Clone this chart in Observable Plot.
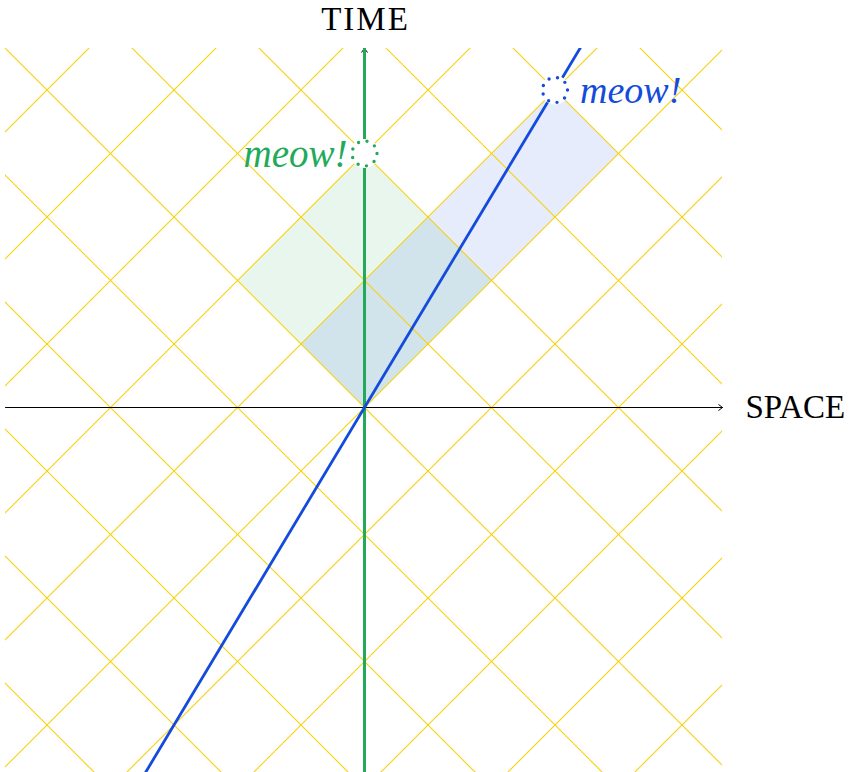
<!DOCTYPE html>
<html><head><meta charset="utf-8">
<script src="https://cdn.jsdelivr.net/npm/d3@7"></script>
<script src="https://cdn.jsdelivr.net/npm/@observablehq/plot@0.6"></script>
<style>body{margin:0;background:#fff}svg{display:block}</style>
</head><body>
<script>
// light-cone grid levels (u = t + x, w = t - x)
const lightConeLevels = [-6,-5,-4,-3,-2,-1,0,1,2,3,4,5,6];
// shaded regions in light-cone coordinates
const restCatU = [0, 2];
const restCatW = [0, 2];
const movingCatU = [0, 4];
const movingCatW = [0, 1];
// moving cat speed (units of c) and proper time of the meow
const velocity = 0.6;
const meowProperTime = 2;
const worldlineTau = [-3, 3];
const axisLabels = ["TIME", "SPACE"];
const meowText = "meow!";

const GREEN = "#22aa5a", BLUE = "#144bdc", YELLOW = "#f6d10c";
const gamma = 1 / Math.sqrt(1 - velocity * velocity);

const toXT = (u, w) => ({x: (u - w) / 2, t: (u + w) / 2});
const rectPoly = (U, W) => [
  toXT(U[0], W[0]), toXT(U[1], W[0]), toXT(U[1], W[1]), toXT(U[0], W[1]), toXT(U[0], W[0])
];

// each light-like grid line as a segment (u = k or w = k)
const gridLinks = [];
lightConeLevels.forEach(k => {
  gridLinks.push({x1: -6, t1: k + 6, x2: 6, t2: k - 6});
  gridLinks.push({x1: -6, t1: k - 6, x2: 6, t2: k + 6});
});

const restLine = worldlineTau.map(tau => ({x: 0, t: tau}));
const movingLine = worldlineTau.map(tau => ({x: gamma * velocity * tau, t: gamma * tau}));
const restMeow = {x: 0, t: meowProperTime};
const movingMeow = {x: gamma * velocity * meowProperTime, t: gamma * meowProperTime};

const U = 127;
const xDom = [-359 / U, 358 / U];
const yDom = [-365 / U, 359 / U];
const R = 12.5;
const dash = `0 ${2 * Math.PI * R / 9}`;

const plot = Plot.plot({
  width: 853, height: 772,
  marginLeft: 5, marginRight: 131, marginTop: 48, marginBottom: 0,
  x: {domain: xDom, axis: null},
  y: {domain: yDom, axis: null},
  style: {fontFamily: "'Liberation Serif', serif", background: "white"},
  marks: [
    Plot.line(rectPoly(restCatU, restCatW), {x: "x", y: "t", fill: GREEN, fillOpacity: 0.105, stroke: "none"}),
    Plot.line(rectPoly(movingCatU, movingCatW), {x: "x", y: "t", fill: BLUE, fillOpacity: 0.105, stroke: "none"}),
    Plot.link(gridLinks, {x1: "x1", y1: "t1", x2: "x2", y2: "t2", stroke: YELLOW, strokeWidth: 1.1, clip: true}),
    Plot.arrow([0], {x1: xDom[0], y1: 0, x2: xDom[1], y2: 0, stroke: "black", strokeWidth: 1, headLength: 7, headAngle: 75}),
    Plot.arrow([0], {x1: 0, y1: yDom[0], x2: 0, y2: yDom[1], stroke: "black", strokeWidth: 1, headLength: 7, headAngle: 75}),
    Plot.line(restLine, {x: "x", y: "t", stroke: GREEN, strokeWidth: 3, clip: true}),
    Plot.line(movingLine, {x: "x", y: "t", stroke: BLUE, strokeWidth: 2.8, clip: true}),
    Plot.dot([restMeow, movingMeow], {x: "x", y: "t", r: 14.5, fill: "white", stroke: "none"}),
    Plot.dot([restMeow], {x: "x", y: "t", r: R, fill: "none", stroke: GREEN, strokeWidth: 3.4,
      strokeLinecap: "round", strokeDasharray: dash}),
    Plot.dot([movingMeow], {x: "x", y: "t", r: R, fill: "none", stroke: BLUE, strokeWidth: 3.4,
      strokeLinecap: "round", strokeDasharray: dash}),
    Plot.text([restMeow], {x: "x", y: "t", text: () => meowText, fill: GREEN, fontSize: 39, fontStyle: "italic",
      textAnchor: "end", dx: -17, dy: 1}),
    Plot.text([movingMeow], {x: "x", y: "t", text: () => meowText, fill: BLUE, fontSize: 38, fontStyle: "italic",
      textAnchor: "start", dx: 25, dy: 1}),
    Plot.text([axisLabels[0]], {x: 0, y: yDom[1], text: d => d, fill: "black", fontSize: 33, dy: -29}),
    Plot.text([axisLabels[1]], {x: xDom[1], y: 0, text: d => d, fill: "black", fontSize: 33, textAnchor: "start", dx: 23})
  ]
});
d3.select(plot).selectAll("text").filter(function() { return this.textContent === axisLabels[0]; })
  .style("letter-spacing", "2px").attr("dx", "1px");
document.body.appendChild(plot);
</script>
</body></html>
